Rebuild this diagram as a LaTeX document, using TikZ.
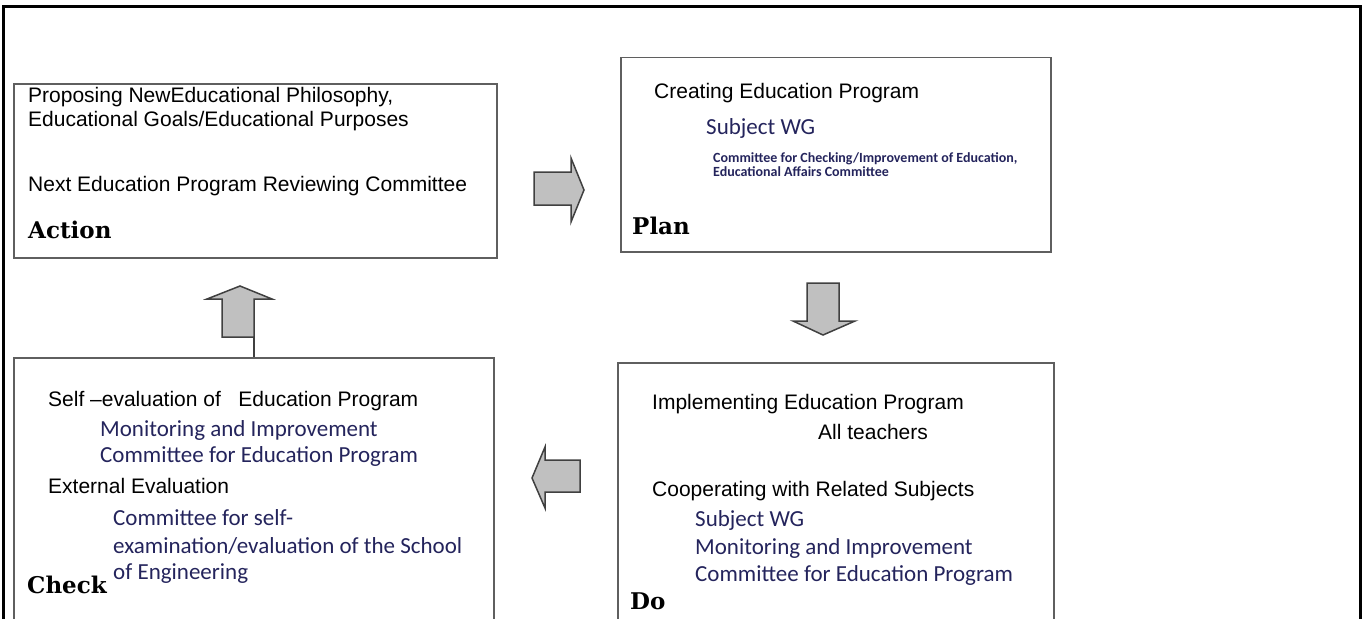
\documentclass[tikz,border=0pt]{standalone}
\usepackage{fontspec}
\setmainfont{Liberation Sans}
\newfontfamily\cmtfont{Carlito}
\newfontfamily\pdcafont{DejaVu Serif}
\usepackage{xcolor}
\definecolor{cmtblue}{RGB}{36,36,92}
\definecolor{boxgray}{RGB}{95,95,95}
\definecolor{arrowfill}{RGB}{192,192,192}

\tikzset{
	box/.style={draw=boxgray, line width=1.5pt, anchor=north west, inner sep=0pt},
	txt/.style={anchor=base west, inner sep=0pt, font=\fontsize{21}{24}\selectfont},
	cmt/.style={anchor=base west, inner sep=0pt, text=cmtblue, font=\cmtfont\fontsize{23}{26}\selectfont},
	small/.style={anchor=base west, inner sep=0pt, text=cmtblue, font=\cmtfont\bfseries\fontsize{14}{15}\selectfont},
	pdca/.style={anchor=base west, inner sep=0pt, font=\pdcafont\bfseries\fontsize{23}{28}\selectfont},
	blockarrow/.style={draw=black!75, line width=1.5pt, fill=arrowfill, line join=miter}
}

\begin{document}
\begin{tikzpicture}[x=1pt,y=-1pt]
	\useasboundingbox (0,0) rectangle (1364,618);
	% outer frame
	\draw[line width=3pt] (3,640) -- (3,7) -- (1360,7) -- (1360,640);
	% the four boxes
	\node[box, minimum width=483pt, minimum height=174pt] (act) at (13,83) {};
	\node[box, minimum width=430pt, minimum height=194pt] (plan) at (620,57) {};
	\node[box, minimum width=436pt, minimum height=300pt] (do) at (617,362) {};
	\node[box, minimum width=480pt, minimum height=300pt] (chk) at (13,357) {};
	% Action
	\node[txt] (act1) at (28,102) {Proposing NewEducational Philosophy,};
	\node[txt] (act2) at (28,126) {Educational Goals/Educational Purposes};
	\node[txt] (act3) at (28,191) {Next Education Program Reviewing Committee};
	\node[pdca] (actlbl) at (28,238) {Action};
	% Plan
	\node[txt] (plan1) at (654,98) {Creating Education Program};
	\node[cmt] (plan2) at (706,134) {Subject WG};
	\node[small] (plan3) at (713,162) {Committee for Checking/Improvement of Education,};
	\node[small] (plan4) at (713,176) {Educational Affairs Committee};
	\node[pdca] (planlbl) at (632,234) {Plan};
	% Do
	\node[txt] (do1) at (652,409) {Implementing Education Program};
	\node[txt] (do2) at (818,439) {All teachers};
	\node[txt] (do3) at (652,496) {Cooperating with Related Subjects};
	\node[cmt] (do4) at (695,526) {Subject WG};
	\node[cmt] (do5) at (695,554) {Monitoring and Improvement};
	\node[cmt] (do6) at (695,581) {Committee for Education Program};
	\node[pdca] (dolbl) at (630,609) {Do};
	% Check
	\node[txt] (chk1) at (48,406) {Self –evaluation of~~~Education Program};
	\node[cmt] (chk2) at (100,436) {Monitoring and Improvement};
	\node[cmt] (chk3) at (100,462) {Committee for Education Program};
	\node[txt] (chk4) at (48,493) {External Evaluation};
	\node[cmt] (chk5) at (113,525) {Committee for self-};
	\node[cmt] (chk6) at (113,553) {examination/evaluation of the School};
	\node[cmt] (chk7) at (113,579) {of Engineering};
	\node[pdca] (chklbl) at (27,593) {Check};
	% block arrows
	\draw[blockarrow] (534,172) -- (571,172) -- (571,158) -- (584,190) -- (571,222) -- (571,205) -- (534,205) -- cycle;
	\draw[blockarrow] (807,283) -- (839,283) -- (839,321) -- (855,321) -- (823,335) -- (793,321) -- (807,321) -- cycle;
	\draw[blockarrow] (580,460) -- (545,460) -- (545,447) -- (532,478) -- (545,508) -- (545,492) -- (580,492) -- cycle;
	\draw[blockarrow] (222,337) -- (222,299) -- (207,299) -- (240,286) -- (272,299) -- (254,299) -- (254,337) -- cycle;
	\coordinate (upfoot) at (254,337);
	\draw[line width=1.5pt, black!75] (upfoot) -- (upfoot |- chk.north);
\end{tikzpicture}
\end{document}
